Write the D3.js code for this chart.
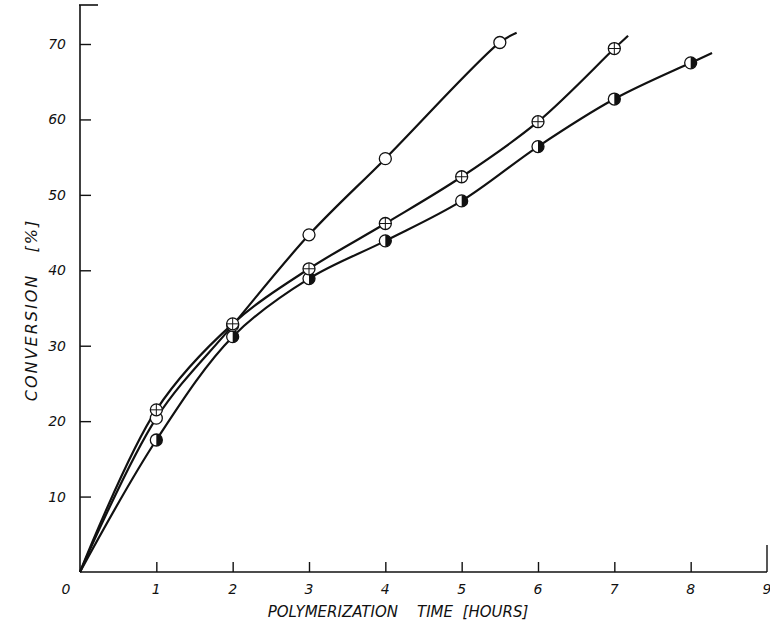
<!DOCTYPE html>
<html><head><meta charset="utf-8">
<script src="https://cdn.jsdelivr.net/npm/d3@7"></script>
<style>body{margin:0;background:#fff}svg{display:block}text{font-family:"DejaVu Sans",sans-serif;font-style:italic;fill:#111}</style>
</head><body><svg id="c" width="770" height="632"></svg>
<script>
const xTicks = [0,1,2,3,4,5,6,7,8,9];
const yTicks = [0,10,20,30,40,50,60,70];
// open circles
const openT = [0,1,2,3,4,5.5];
const openV = [0,20.4,32.7,44.7,54.8,70.2];
const openEnd = [5.72,71.5];
// crossed circles
const crossT = [0,1,2,3,4,5,6,7];
const crossV = [0,21.5,32.9,40.2,46.2,52.4,59.7,69.4];
const crossEnd = [7.18,71.1];
// half-filled circles
const halfT = [0,1,2,3,4,5,6,7,8];
const halfV = [0,17.5,31.2,38.9,43.9,49.2,56.4,62.7,67.5];
const halfEnd = [8.28,68.8];

const svg = d3.select("#c");
const x = d3.scaleLinear().domain([0,9]).range([80,767]);
const y = d3.scaleLinear().domain([0,70]).range([572,44]);

// axes
svg.append("line").attr("x1",80).attr("x2",80).attr("y1",5).attr("y2",572).attr("stroke","#111").attr("stroke-width",1.6);
svg.append("line").attr("x1",79).attr("x2",98).attr("y1",5).attr("y2",5).attr("stroke","#111").attr("stroke-width",1.6);
svg.append("line").attr("x1",80).attr("x2",767).attr("y1",572).attr("y2",572).attr("stroke","#111").attr("stroke-width",1.6);
svg.append("line").attr("x1",767).attr("x2",767).attr("y1",545).attr("y2",572).attr("stroke","#111").attr("stroke-width",1.4);

const xAxis = svg.append("g").attr("transform","translate(0,572)")
  .call(d3.axisTop(x).tickValues(xTicks.slice(1,9)).tickSize(10).tickFormat(""));
xAxis.select(".domain").remove();
xAxis.selectAll("line").attr("stroke","#111").attr("stroke-width",1.4);
svg.append("g").selectAll("text").data(xTicks).join("text")
  .attr("x",d=>x(d)-(d===0?14:0)).attr("y",594).attr("text-anchor","middle")
  .attr("font-size",14).text(d=>d);

const yAxis = svg.append("g").attr("transform","translate(80,0)")
  .call(d3.axisRight(y).tickValues(yTicks.slice(1)).tickSize(11).tickFormat(""));
yAxis.select(".domain").remove();
yAxis.selectAll("line").attr("stroke","#111").attr("stroke-width",1.4);
svg.append("g").selectAll("text").data(yTicks.slice(1)).join("text")
  .attr("x",66).attr("y",d=>y(d)+5).attr("text-anchor","end")
  .attr("font-size",14).text(d=>d);

// titles
svg.append("text").attr("x",398).attr("y",617).attr("text-anchor","middle")
  .attr("font-size",15).attr("xml:space","preserve").text("POLYMERIZATION    TIME  [HOURS]");
svg.append("text").attr("transform","translate(37,310) rotate(-90)").attr("text-anchor","middle")
  .attr("font-size",16).attr("letter-spacing",2).attr("xml:space","preserve").text("CONVERSION   [%]");

// curves
const line = d3.line().x(d=>x(d[0])).y(d=>y(d[1])).curve(d3.curveCatmullRom.alpha(0.5));
function pts(T,V,end){const p=T.map((t,i)=>[t,V[i]]);p.push(end);return p;}
[[openT,openV,openEnd],[crossT,crossV,crossEnd],[halfT,halfV,halfEnd]].forEach(([T,V,E])=>{
  svg.append("path").attr("d",line(pts(T,V,E))).attr("fill","none").attr("stroke","#111").attr("stroke-width",2.2);
});

const r = 6;
// half markers
const hg = svg.append("g");
halfT.forEach((t,i)=>{ if(t===0) return;
  const cx=x(t), cy=y(halfV[i]);
  hg.append("circle").attr("cx",cx).attr("cy",cy).attr("r",r).attr("fill","#fff").attr("stroke","#111").attr("stroke-width",1.3);
  hg.append("path").attr("d",`M${cx},${cy-r}A${r},${r} 0 0 1 ${cx},${cy+r}Z`).attr("fill","#111");
});
// open markers
openT.forEach((t,i)=>{ if(t===0) return;
  svg.append("circle").attr("cx",x(t)).attr("cy",y(openV[i])).attr("r",r).attr("fill","#fff").attr("stroke","#111").attr("stroke-width",1.3);
});
// crossed markers
crossT.forEach((t,i)=>{ if(t===0) return;
  const cx=x(t), cy=y(crossV[i]);
  svg.append("circle").attr("cx",cx).attr("cy",cy).attr("r",r).attr("fill","#fff").attr("stroke","#111").attr("stroke-width",1.3);
  svg.append("path").attr("d",`M${cx-r},${cy}H${cx+r}M${cx},${cy-r}V${cy+r}`).attr("stroke","#111").attr("stroke-width",1);
});
</script></body></html>
